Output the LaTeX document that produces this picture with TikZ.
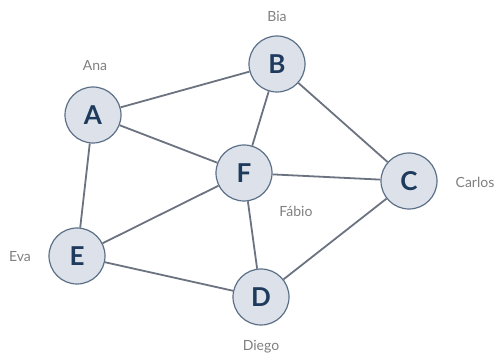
\documentclass[tikz,border=0pt]{standalone}
\usepackage{fontspec}
\setmainfont{Lato}
\definecolor{nodefill}{HTML}{DDE2EA}
\definecolor{nodeborder}{HTML}{5B6F87}
\definecolor{nodetext}{HTML}{1E3A5C}
\definecolor{edgecol}{HTML}{6B7280}
\definecolor{labelcol}{HTML}{7F7F7F}
\begin{document}
\begin{tikzpicture}[x=1pt,y=-1pt,
  vertex/.style={circle,draw=nodeborder,fill=nodefill,line width=1.2pt,minimum size=56pt,inner sep=0pt,
     font=\fontsize{26}{26}\selectfont\bfseries,text=nodetext},
  lbl/.style={font=\fontsize{14}{14}\selectfont,text=labelcol,inner sep=0pt},
  edge/.style={draw=edgecol,line width=1.8pt}]
\useasboundingbox (0,0) rectangle (498,355);
\node[vertex] (A) at (93,115) {A};
\node[vertex] (B) at (277,64) {B};
\node[vertex] (C) at (409,181) {C};
\node[vertex] (D) at (261,297) {D};
\node[vertex] (E) at (77,256) {E};
\node[vertex] (F) at (244,173) {F};
\node[lbl] (lA) at (95,66) {Ana};
\node[lbl] (lB) at (277,16) {Bia};
\node[lbl] (lC) at (475,182) {Carlos};
\node[lbl] (lF) at (296,211) {Fábio};
\node[lbl] (lE) at (20,257) {Eva};
\node[lbl] (lD) at (261,347) {Diego};
\draw[edge] (A) -- (B);
\draw[edge] (A) -- (F);
\draw[edge] (A) -- (E);
\draw[edge] (B) -- (F);
\draw[edge] (B) -- (C);
\draw[edge] (F) -- (C);
\draw[edge] (F) -- (E);
\draw[edge] (F) -- (D);
\draw[edge] (E) -- (D);
\draw[edge] (D) -- (C);
\end{tikzpicture}
\end{document}
